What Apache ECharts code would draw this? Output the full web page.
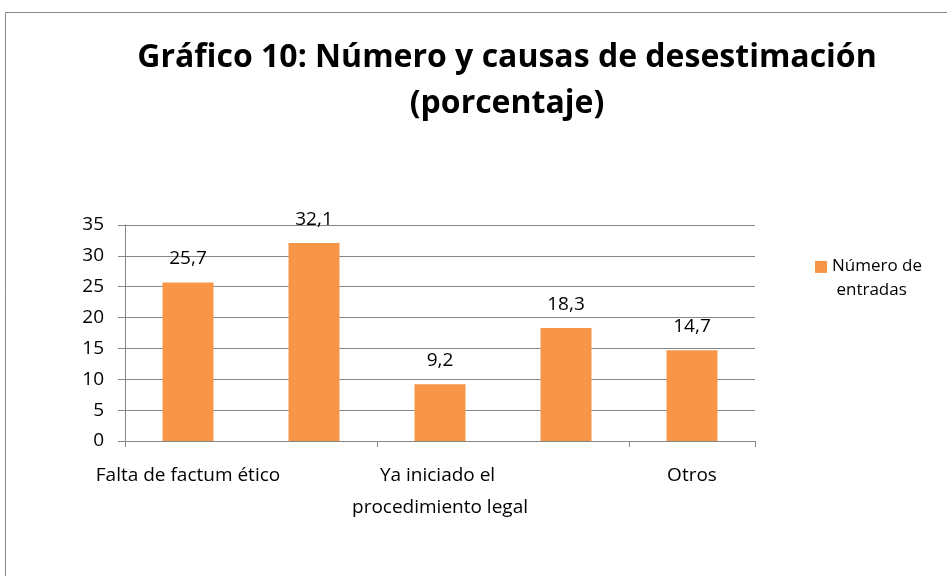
<!DOCTYPE html>
<html>
<head>
<meta charset="utf-8">
<style>
  html, body { margin: 0; padding: 0; background: #fff; }
  #chart { width: 947px; height: 576px; }
</style>
<script src="https://cdn.jsdelivr.net/npm/echarts@6/dist/echarts.min.js"></script>
</head>
<body>
<div id="chart"></div>
<script>
// Excel only printed every other category label, so 2nd and 4th are unknown
const categories = ['Falta de factum ético', '', 'Ya iniciado el procedimiento legal', '', 'Otros']
const entradas = [25.7, 32.1, 9.2, 18.3, 14.7]
const seriesName = 'Número de entradas'
const yTicks = { min: 0, max: 35, interval: 5 }

const font = '"Open Sans", "Noto Sans", sans-serif'
const gridColor = '#868686'

const chart = echarts.init(document.getElementById('chart'))
chart.setOption({
  animation: false,
  textStyle: { fontFamily: font },
  title: {
    text: 'Gráfico 10: Número y causas de desestimación\n(porcentaje)',
    left: 502,
    top: 30,
    textAlign: 'center',
    textStyle: {
      fontFamily: font,
      fontSize: 32,
      fontWeight: 'bold',
      color: '#000',
      lineHeight: 46
    }
  },
  // chart area frame, only top and left edges are inside the picture
  graphic: [{
    type: 'polyline',
    shape: { points: [[5.5, 700], [5.5, 12.5], [1000, 12.5]] },
    style: { fill: 'none', stroke: gridColor, lineWidth: 1 },
    silent: true
  }],
  legend: {
    orient: 'vertical',
    left: 810,
    top: 249,
    // square sits on the first text line, the lone moveTo stretches the box
    icon: 'path://M0,0h13v13h-13z M0,37',
    itemWidth: 12,
    itemHeight: 37,
    textStyle: {
      fontFamily: font,
      fontSize: 17,
      color: '#000',
      width: 100,
      overflow: 'break',
      lineHeight: 24
    },
    data: [seriesName]
  },
  grid: {
    left: 125,
    right: 192,
    top: 225,
    bottom: 135,
    containLabel: false
  },
  xAxis: {
    type: 'category',
    data: categories,
    axisLine: { lineStyle: { color: gridColor } },
    axisTick: { show: true, length: 6, lineStyle: { color: gridColor } },
    axisLabel: {
      interval: 1,
      margin: 19,
      fontSize: 19,
      color: '#000',
      lineHeight: 32,
      width: 215,
      overflow: 'break'
    }
  },
  yAxis: {
    type: 'value',
    min: yTicks.min,
    max: yTicks.max,
    interval: yTicks.interval,
    axisLine: { show: true, lineStyle: { color: gridColor } },
    axisTick: { show: true, length: 7, lineStyle: { color: gridColor } },
    splitLine: { lineStyle: { color: gridColor } },
    axisLabel: {
      margin: 21,
      fontSize: 19,
      color: '#000'
    }
  },
  series: [{
    name: seriesName,
    type: 'bar',
    data: entradas,
    barWidth: 51,
    itemStyle: { color: '#F79646' },
    label: {
      show: true,
      position: 'top',
      distance: 14,
      fontSize: 19,
      color: '#000',
      formatter: (p) => String(p.value).replace('.', ',')
    }
  }]
})
</script>
</body>
</html>
